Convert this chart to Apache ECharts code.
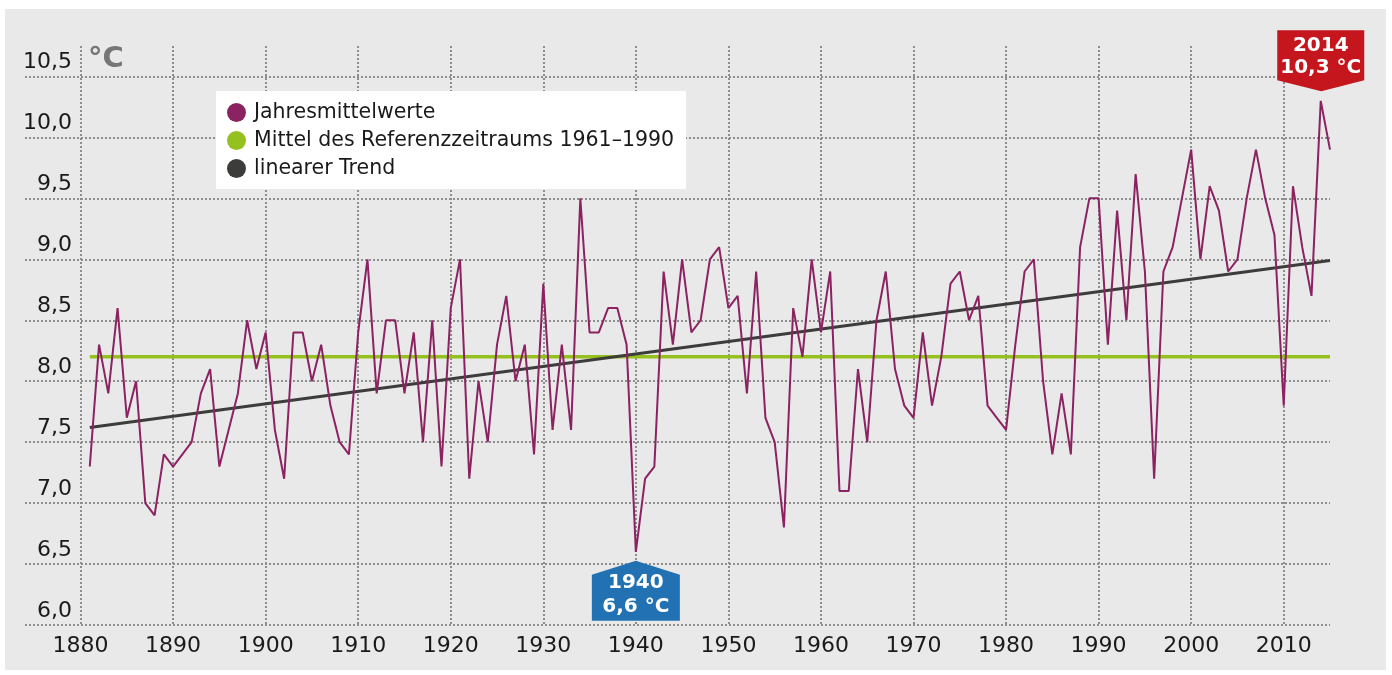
<!DOCTYPE html>
<html>
<head>
<meta charset="utf-8">
<script src="https://cdn.jsdelivr.net/npm/echarts@6/dist/echarts.min.js"></script>
<style>
  html, body { margin: 0; padding: 0; background: #fff; }
  #main { width: 1392px; height: 675px; }
</style>
</head>
<body>
<div id="main"></div>
<script>
// Jahresmittel der Lufttemperatur, 1881-2015
var startYear = 1881;
var temps = [
  7.3, 8.3, 7.9, 8.6, 7.7, 8.0, 7.0, 6.9, 7.4, 7.3,   // 1881-1890
  7.4, 7.5, 7.9, 8.1, 7.3, 7.6, 7.9, 8.5, 8.1, 8.4,   // 1891-1900
  7.6, 7.2, 8.4, 8.4, 8.0, 8.3, 7.8, 7.5, 7.4, 8.4,   // 1901-1910
  9.0, 7.9, 8.5, 8.5, 7.9, 8.4, 7.5, 8.5, 7.3, 8.6,   // 1911-1920
  9.0, 7.2, 8.0, 7.5, 8.3, 8.7, 8.0, 8.3, 7.4, 8.8,   // 1921-1930
  7.6, 8.3, 7.6, 9.5, 8.4, 8.4, 8.6, 8.6, 8.3, 6.6,   // 1931-1940
  7.2, 7.3, 8.9, 8.3, 9.0, 8.4, 8.5, 9.0, 9.1, 8.6,   // 1941-1950
  8.7, 7.9, 8.9, 7.7, 7.5, 6.8, 8.6, 8.2, 9.0, 8.4,   // 1951-1960
  8.9, 7.1, 7.1, 8.1, 7.5, 8.5, 8.9, 8.1, 7.8, 7.7,   // 1961-1970
  8.4, 7.8, 8.2, 8.8, 8.9, 8.5, 8.7, 7.8, 7.7, 7.6,   // 1971-1980
  8.3, 8.9, 9.0, 8.0, 7.4, 7.9, 7.4, 9.1, 9.5, 9.5,   // 1981-1990
  8.3, 9.4, 8.5, 9.7, 8.9, 7.2, 8.9, 9.1, 9.5, 9.9,   // 1991-2000
  9.0, 9.6, 9.4, 8.9, 9.0, 9.5, 9.9, 9.5, 9.2, 7.8,   // 2001-2010
  9.6, 9.1, 8.7, 10.3, 9.9                            // 2011-2015
];
var refYears = [1881, 2015];
var refValues = [8.2, 8.2];        // Mittel 1961-1990
var trendYears = [1881, 2015];
var trendValues = [7.62, 8.99];    // linearer Trend
var decades = [1880, 1890, 1900, 1910, 1920, 1930, 1940, 1950, 1960, 1970, 1980, 1990, 2000, 2010];
var yTicks = [6.0, 6.5, 7.0, 7.5, 8.0, 8.5, 9.0, 9.5, 10.0, 10.5];
var lowYear = 1940, lowValue = 6.6;
var highYear = 2014, highValue = 10.3;

var names = ['Jahresmittelwerte', 'Mittel des Referenzzeitraums 1961–1990', 'linearer Trend'];
var font = 'DejaVu Sans';

function comma(v){
  return v.toFixed(1).replace('.', ',');
}

var yearly = [];
for (var i = 0; i < temps.length; i++) {
  yearly.push([startYear + i, temps[i]]);
}
var refData = [];
for (var i = 0; i < refYears.length; i++) {
  refData.push([refYears[i], refValues[i]]);
}
var trendData = [];
for (var i = 0; i < trendYears.length; i++) {
  trendData.push([trendYears[i], trendValues[i]]);
}

var dotted = {color: '#8e8e8e', width: 2, type: [2, 2]};

var mychart = echarts.init(document.getElementById('main'));
mychart.setOption({
  animation: false,
  backgroundColor: '#fff',
  graphic: [{
    type: 'rect',
    z: -10,
    shape: {x: 5, y: 9, width: 1381, height: 661},
    style: {fill: '#e8e9e8'}
  }],
  title: {
    text: '°C',
    left: 88,
    top: 45,
    padding: 0,
    textStyle: {fontFamily: font, fontSize: 29, fontWeight: 'bold', color: '#767676'}
  },
  legend: {
    data: names,
    orient: 'vertical',
    left: 216,
    top: 91,
    backgroundColor: '#fff',
    padding: [11, 12, 10, 11],
    itemGap: 7,
    itemWidth: 19,
    itemHeight: 19,
    icon: 'circle',
    selectedMode: false,
    textStyle: {fontFamily: font, fontSize: 20.5, color: '#1a1a1a', padding: [0, 0, 0, 3], lineHeight: 20.5}
  },
  grid: {left: 25, right: 62, top: 46, bottom: 50, containLabel: false},
  xAxis: {
    type: 'value',
    min: 1874,
    max: 2015,
    axisLine: {show: false},
    axisTick: {show: false, customValues: decades},
    axisLabel: {
      customValues: decades,
      margin: 10,
      fontFamily: font,
      fontSize: 22,
      color: '#1a1a1a',
      formatter: function(v){ return String(v); }
    },
    splitLine: {show: true, lineStyle: dotted}
  },
  yAxis: {
    type: 'value',
    min: 6,
    max: 10.75,
    axisLine: {show: false},
    axisTick: {show: false, customValues: yTicks},
    axisLabel: {
      customValues: yTicks,
      inside: true,
      align: 'right',
      verticalAlign: 'bottom',
      margin: 47,
      padding: [0, 0, 3, 0],
      fontFamily: font,
      fontSize: 22,
      color: '#1a1a1a',
      formatter: function(v){ return comma(v); }
    },
    splitLine: {show: true, lineStyle: dotted}
  },
  series: [
    {
      name: names[1],
      type: 'line',
      data: refData,
      symbol: 'none',
      itemStyle: {color: '#95c11f'},
      lineStyle: {color: '#95c11f', width: 3.5},
      z: 2
    },
    {
      name: names[2],
      type: 'line',
      data: trendData,
      symbol: 'none',
      itemStyle: {color: '#3c3c3b'},
      lineStyle: {color: '#3c3c3b', width: 3},
      z: 3
    },
    {
      name: names[0],
      type: 'line',
      data: yearly,
      symbol: 'none',
      itemStyle: {color: '#8b2262'},
      lineStyle: {color: '#8b2262', width: 2},
      z: 4,
      markPoint: {
        silent: true,
        z: 10,
        data: [
          {
            coord: [lowYear, lowValue],
            symbol: 'path://M0,14 L44,0 L88,14 L88,60 L0,60 Z',
            symbolSize: [88, 60],
            symbolOffset: [0, 39],
            itemStyle: {color: '#2271b3'},
            label: {
              show: true,
              position: 'inside',
              offset: [0, 4],
              formatter: lowYear + '\n' + comma(lowValue) + ' °C',
              fontFamily: font,
              fontSize: 20,
              fontWeight: 'bold',
              lineHeight: 24,
              color: '#fff'
            }
          },
          {
            coord: [highYear, highValue],
            symbol: 'path://M0,0 L87,0 L87,50 L44,61 L0,50 Z',
            symbolSize: [87, 61],
            symbolOffset: [0, -40],
            itemStyle: {color: '#c4161c'},
            label: {
              show: true,
              position: 'inside',
              offset: [0, -4.5],
              formatter: highYear + '\n' + comma(highValue) + ' °C',
              fontFamily: font,
              fontSize: 20,
              fontWeight: 'bold',
              lineHeight: 22,
              color: '#fff'
            }
          }
        ]
      }
    }
  ]
});
</script>
</body>
</html>
